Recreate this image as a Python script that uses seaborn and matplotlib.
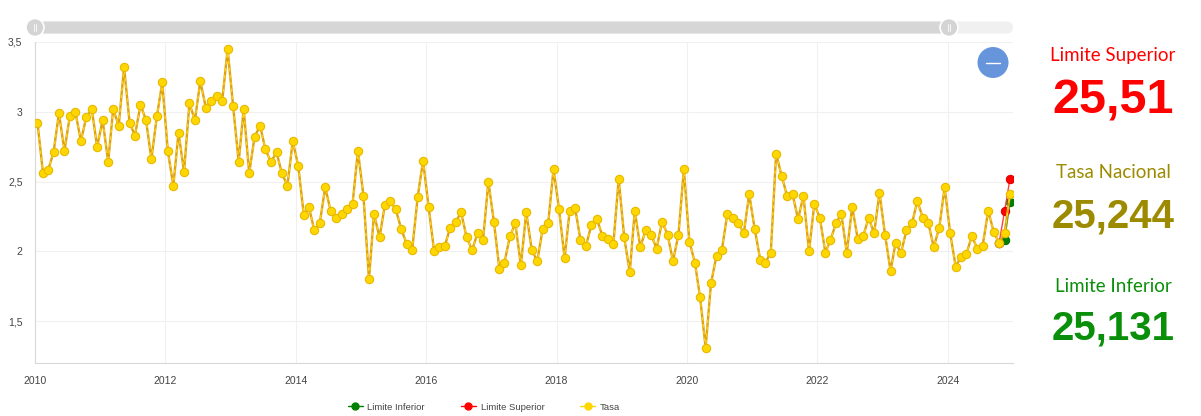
import pandas as pd
import matplotlib
matplotlib.use('Agg')
import matplotlib.pyplot as plt
import matplotlib.dates as mdates
from matplotlib.patches import Circle, FancyBboxPatch
from matplotlib.lines import Line2D
import seaborn as sns

# Serie mensual 2010-2024 (valor de la tasa)
tasa = [
    2.92, 2.56, 2.58, 2.71, 2.99, 2.72, 2.97, 3.00, 2.79, 2.96, 3.02, 2.75,  # 2010
    2.94, 2.64, 3.02, 2.90, 3.32, 2.92, 2.83, 3.05, 2.94, 2.66, 2.97, 3.21,  # 2011
    2.72, 2.47, 2.85, 2.57, 3.06, 2.94, 3.22, 3.03, 3.08, 3.11, 3.08, 3.45,  # 2012
    3.04, 2.64, 3.02, 2.56, 2.82, 2.90, 2.73, 2.64, 2.71, 2.56, 2.47, 2.79,  # 2013
    2.61, 2.26, 2.32, 2.15, 2.20, 2.46, 2.29, 2.24, 2.27, 2.30, 2.34, 2.72,  # 2014
    2.40, 1.80, 2.27, 2.10, 2.33, 2.36, 2.30, 2.16, 2.05, 2.01, 2.39, 2.65,  # 2015
    2.32, 2.00, 2.03, 2.04, 2.17, 2.21, 2.28, 2.10, 2.01, 2.13, 2.08, 2.50,  # 2016
    2.21, 1.87, 1.92, 2.11, 2.20, 1.90, 2.28, 2.01, 1.93, 2.16, 2.20, 2.59,  # 2017
    2.30, 1.95, 2.29, 2.31, 2.08, 2.04, 2.19, 2.23, 2.11, 2.09, 2.05, 2.52,  # 2018
    2.10, 1.85, 2.29, 2.03, 2.15, 2.12, 2.02, 2.21, 2.12, 1.93, 2.12, 2.59,  # 2019
    2.07, 1.92, 1.67, 1.31, 1.77, 1.97, 2.01, 2.27, 2.24, 2.20, 2.13, 2.41,  # 2020
    2.16, 1.94, 1.92, 1.99, 2.70, 2.54, 2.40, 2.41, 2.23, 2.40, 2.00, 2.34,  # 2021
    2.24, 1.99, 2.08, 2.20, 2.27, 1.99, 2.32, 2.09, 2.11, 2.24, 2.13, 2.42,  # 2022
    2.12, 1.86, 2.06, 1.99, 2.15, 2.20, 2.36, 2.24, 2.20, 2.03, 2.17, 2.46,  # 2023
    2.13, 1.89, 1.96, 1.98, 2.11, 2.02, 2.04, 2.29, 2.14, 2.06, 2.13, 2.41,  # 2024
]
# Limites de la proyeccion (oct, nov, dic 2024)
limite_superior = [2.06, 2.29, 2.52]
limite_inferior = [2.06, 2.08, 2.35]

y_ticks = [1.5, 2, 2.5, 3, 3.5]
y_tick_labels = ['1,5', '2', '2,5', '3', '3,5']
x_tick_years = [2010, 2012, 2014, 2016, 2018, 2020, 2022, 2024]

panel_titulos = ['Limite Superior', 'Tasa Nacional', 'Limite Inferior']
panel_valores = ['25,51', '25,244', '25,131']

fechas = pd.date_range('2010-01-01', periods=len(tasa), freq='MS') + pd.Timedelta(days=14)
df = pd.DataFrame({'Fecha': fechas, 'Tasa': tasa})
df_lim = pd.DataFrame({'Fecha': fechas[-3:], 'Sup': limite_superior, 'Inf': limite_inferior})

sns.set_style('white')
plt.rcParams['font.family'] = ['Liberation Sans', 'DejaVu Sans']

fig = plt.figure(figsize=(12.01, 4.16), dpi=100)
ax = fig.add_axes([35 / 1201, 1 - 363 / 416, (1013 - 35) / 1201, (363 - 42) / 416])

sns.lineplot(data=df_lim, x='Fecha', y='Inf', ax=ax, color='#2e9e2e', lw=1.0,
             marker='o', markersize=6, markerfacecolor='#008000', markeredgecolor='#007000',
             label='Limite Inferior', zorder=2)
sns.lineplot(data=df_lim, x='Fecha', y='Sup', ax=ax, color='#ff4040', lw=1.0,
             marker='o', markersize=6, markerfacecolor='#ff0000', markeredgecolor='#e00000',
             label='Limite Superior', zorder=2)
sns.lineplot(data=df, x='Fecha', y='Tasa', ax=ax, color='#dca212', lw=1.7,
             label='Tasa', zorder=3)
sns.lineplot(data=df, x='Fecha', y='Tasa', ax=ax, color='#ffd21a', lw=1.0,
             dashes=False, linestyle=(0, (2.5, 2.5)), marker='o', markersize=6,
             markerfacecolor='#ffd700', markeredgecolor='#e8b800', markeredgewidth=0.8,
             zorder=4)

ax.set_xlim(pd.Timestamp('2010-01-01'), pd.Timestamp('2025-01-01'))
ax.set_ylim(1.2, 3.5)
ax.set_yticks(y_ticks)
ax.set_yticklabels(y_tick_labels)
ax.set_xticks([pd.Timestamp(f'{y}-01-01') for y in x_tick_years])
ax.xaxis.set_major_formatter(mdates.DateFormatter('%Y'))
ax.set_xlabel('')
ax.set_ylabel('')
ax.grid(True, color='#f0f0f0', lw=0.8)
for s in ['top', 'right']:
    ax.spines[s].set_visible(False)
for s in ['left', 'bottom']:
    ax.spines[s].set_color('#d8d8d8')
    ax.spines[s].set_linewidth(0.8)
ax.tick_params(axis='both', length=4, color='#d8d8d8', labelsize=7.5, labelcolor='#444444', pad=5)

ax.legend_.remove()
leg_handles = [
    Line2D([], [], color='#008000', marker='o', markersize=5, lw=1.0),
    Line2D([], [], color='#ff0000', marker='o', markersize=5, lw=1.0),
    Line2D([], [], color='#ffd700', marker='o', markersize=5, lw=1.0),
]
fig.legend(leg_handles, ['Limite Inferior', 'Limite Superior', 'Tasa'], loc='center',
           bbox_to_anchor=(484 / 1201, 1 - 407 / 416), ncol=3, frameon=False,
           fontsize=6.8, labelcolor='#444444', handlelength=1.6, columnspacing=3.8,
           handletextpad=0.5)

# capa en pixeles para el slider y el boton
ov = fig.add_axes([0, 0, 1, 1], zorder=5)
ov.set_xlim(0, 1201)
ov.set_ylim(416, 0)
ov.axis('off')
ov.patch.set_alpha(0)
ov.add_patch(FancyBboxPatch((26, 21.5), 1013 - 26, 12, boxstyle='round,pad=0,rounding_size=6',
                            fc='#f0f0f0', ec='none'))
ov.add_patch(FancyBboxPatch((26, 21.5), 949 - 26, 12, boxstyle='round,pad=0,rounding_size=6',
                            fc='#d6d6d6', ec='none'))
for hx in [35, 949]:
    ov.add_patch(Circle((hx, 27.5), 9, fc='#d4d4d4', ec='white', lw=1.2))
    ov.plot([hx - 1.3, hx - 1.3], [24, 31], color='white', lw=0.6)
    ov.plot([hx + 1.3, hx + 1.3], [24, 31], color='white', lw=0.6)
ov.add_patch(Circle((993, 62.5), 15.5, fc='#6795dc', ec='none'))
ov.plot([986, 1000], [62.5, 62.5], color='white', lw=1.0)

# panel derecho
col = ['#ff0000', '#9c8b00', '#0a8f0a']
y_tit = [56, 172, 287]
y_val = [101, 216, 329]
sizes = [35, 29, 29]
for t, v, c, yt, yv, fs in zip(panel_titulos, panel_valores, col, y_tit, y_val, sizes):
    fig.text(1113 / 1201, 1 - yt / 416, t, color=c, fontsize=13.5, ha='center', va='center',
             family=['Lato', 'DejaVu Sans'])
    fig.text(1113 / 1201, 1 - yv / 416, v, color=c, fontsize=fs, ha='center', va='center',
             fontweight='bold', family=['Liberation Sans', 'DejaVu Sans'])

plt.savefig('out.png', dpi=100)
